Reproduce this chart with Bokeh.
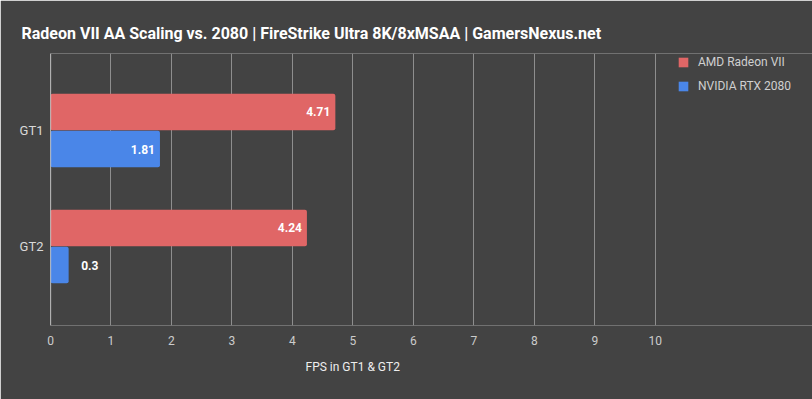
from bokeh.plotting import figure
from bokeh.models import ColumnDataSource, Range1d, FixedTicker, Legend, LegendItem, Span, Title
from bokeh.embed import file_html
from bokeh.resources import INLINE
from bokeh.core.properties import value

categories = ["GT1", "GT2"]
series_names = ["AMD Radeon VII", "NVIDIA RTX 2080"]
radeon_vals = [4.71, 4.24]
rtx_vals = [1.81, 0.3]
x_ticks = [0, 1, 2, 3, 4, 5, 6, 7, 8, 9, 10]
x_title = "FPS in GT1 & GT2"

BG = "#434343"
RED = "#e06666"
BLUE = "#4a86e8"
GRID = "#8e8e8e"
FONT = "Roboto"

# frame spans to the right edge so the legend can sit inside it; ticks stop at 10
p = figure(width=812, height=399, output_backend="svg", toolbar_location=None,
           x_range=Range1d(0, 12.6), y_range=Range1d(-0.681, 1.664),
           min_border_left=50, min_border_right=0, min_border_top=53, min_border_bottom=74,
           background_fill_color=BG, border_fill_color=BG, outline_line_color=None)

p.title.text = "Radeon VII AA Scaling vs. 2080 | FireStrike Ultra 8K/8xMSAA | GamersNexus.net"
p.title.text_font = FONT
p.title.text_font_size = "16px"
p.title.text_font_style = "bold"
p.title.text_color = "#ffffff"
p.title.offset = -29
p.title.standoff = 22

n = len(categories)
ypos = [n - 1 - i for i in range(n)]  # GT1 at top
bar_h = 0.315
off = 0.16

src_r = ColumnDataSource(dict(y=[v + off for v in ypos], x=radeon_vals))
src_b = ColumnDataSource(dict(y=[v - off for v in ypos], x=rtx_vals))

r1 = p.hbar(y="y", right="x", left=0, height=bar_h, source=src_r, fill_color=RED,
            line_color=None, border_radius=2)
r2 = p.hbar(y="y", right="x", left=0, height=bar_h, source=src_b, fill_color=BLUE,
            line_color=None, border_radius=2)

def add_labels(vals, ys):
    inside = [i for i, v in enumerate(vals) if v >= 1]
    outside = [i for i, v in enumerate(vals) if v < 1]
    for idx, xoff, align in ((inside, -5, "right"), (outside, 12.5, "left")):
        if not idx:
            continue
        s = ColumnDataSource(dict(x=[vals[i] for i in idx], y=[ys[i] for i in idx],
                                  t=[str(vals[i]) for i in idx]))
        p.text(x="x", y="y", text="t", source=s, x_offset=xoff, text_align=align,
               text_baseline="middle", text_font=value(FONT), text_font_style="bold",
               text_font_size="12px", text_color="#ffffff")

add_labels(radeon_vals, [v + off for v in ypos])
add_labels(rtx_vals, [v - off for v in ypos])

# grid
p.xgrid.ticker = FixedTicker(ticks=x_ticks)
p.xgrid.grid_line_color = GRID
p.xgrid.grid_line_width = 1
p.ygrid.grid_line_color = None
p.add_layout(Span(location=0, dimension="height", line_color="#f0f0f0", line_width=1.2))

# axes
p.xaxis.ticker = FixedTicker(ticks=x_ticks)
p.xaxis.axis_line_color = None
p.xaxis.major_tick_line_color = None
p.xaxis.minor_tick_line_color = None
p.xaxis.major_tick_out = 0
p.xaxis.major_tick_in = 0
p.xaxis.major_label_text_color = "#cccccc"
p.xaxis.major_label_text_font = FONT
p.xaxis.major_label_text_font_size = "12px"
p.xaxis.major_label_standoff = 10

xt = Title(text=x_title, align="left", offset=255, standoff=21,
           text_font=FONT, text_font_size="12px", text_font_style="normal",
           text_color="#eeeeee")
p.add_layout(xt, "below")

p.yaxis.ticker = FixedTicker(ticks=ypos)
p.yaxis.major_label_overrides = {ypos[i]: categories[i] for i in range(n)}
p.yaxis.axis_line_color = None
p.yaxis.major_tick_line_color = None
p.yaxis.minor_tick_line_color = None
p.yaxis.major_tick_out = 0
p.yaxis.major_tick_in = 0
p.yaxis.major_label_text_color = "#d9d9d9"
p.yaxis.major_label_text_font = FONT
p.yaxis.major_label_text_font_size = "13px"
p.yaxis.major_label_standoff = 7

legend = Legend(items=[LegendItem(label=series_names[0], renderers=[r1]),
                       LegendItem(label=series_names[1], renderers=[r2])],
                location=(627, 229), orientation="vertical",
                background_fill_alpha=0, border_line_alpha=0,
                padding=0, margin=0, spacing=4, label_height=20,
                glyph_width=12, glyph_height=12, label_standoff=9,
                label_text_font=FONT, label_text_font_size="12px",
                label_text_color="#d0d0d0")
p.add_layout(legend, "center")

open("out.html", "w").write(file_html(p, INLINE))
